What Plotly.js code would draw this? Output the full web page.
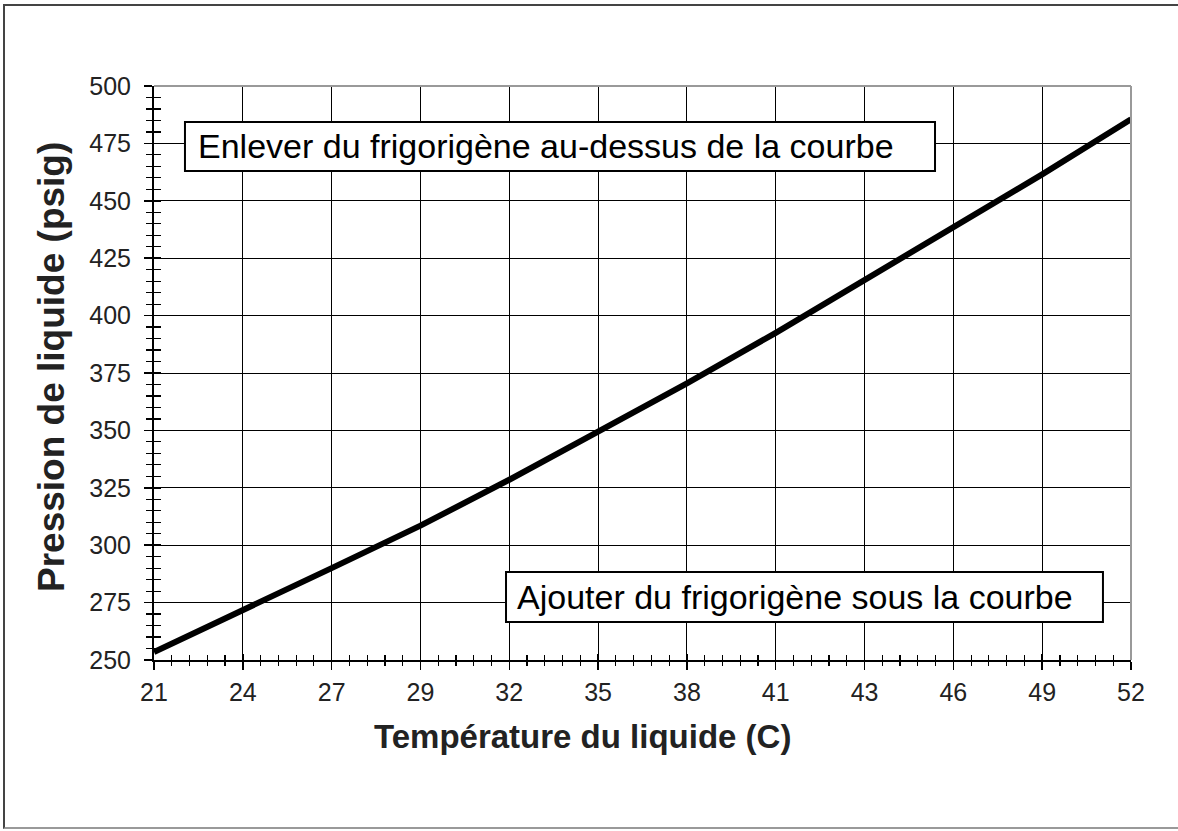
<!DOCTYPE html>
<html>
<head>
<meta charset="utf-8">
<script src="https://cdn.plot.ly/plotly-3.0.1.min.js"></script>
<style>
  html, body { margin: 0; padding: 0; background: #fff; }
  #frame { position: absolute; left: 3px; top: 4px; width: 1180px; height: 825px;
           border-left: 2px solid #444; border-top: 2px solid #444; border-bottom: 2px solid #999;
           box-sizing: border-box; pointer-events: none; z-index: 5; }
  #chart { position: absolute; left: 0; top: 0; width: 1178px; height: 831px; }
</style>
</head>
<body>
<div id="chart"></div>
<div id="frame"></div>
<script>
// Liquid temperature (underlying scale in °F, labelled in °C)
const tempF = [70, 75, 80, 85, 90, 95, 100, 105, 110, 115, 120, 125];
const tempLabelsC = ['21', '24', '27', '29', '32', '35', '38', '41', '43', '46', '49', '52'];
// Liquid pressure (psig)
const pressure = [253.5, 271.5, 290, 308.5, 328.5, 349.5, 370.5, 392.5, 415.5, 438, 461.5, 485.5];
const yTicks = [250, 275, 300, 325, 350, 375, 400, 425, 450, 475, 500];

const labelAbove = 'Enlever du frigorigène au-dessus de la courbe';
const labelBelow = 'Ajouter du frigorigène sous la courbe';
const xTitle = 'Température du liquide (C)';
const yTitle = 'Pression de liquide (psig)';

const FONT = 'Arial, "Liberation Sans", sans-serif';

const traces = [
  {
    x: tempF, y: pressure, type: 'scatter', mode: 'lines',
    line: { color: '#000', width: 6 },
    hoverinfo: 'skip', showlegend: false
  },
  {
    x: [], y: [], xaxis: 'x2', yaxis: 'y2', type: 'scatter', mode: 'lines',
    showlegend: false, hoverinfo: 'skip'
  }
];

const layout = {
  width: 1178, height: 831,
  margin: { l: 154, r: 47, t: 86, b: 171 },
  paper_bgcolor: '#fff', plot_bgcolor: '#fff',
  showlegend: false,
  font: { family: FONT, color: '#222' },
  xaxis: {
    range: [70, 125], tickmode: 'array', tickvals: tempF, ticktext: tempLabelsC,
    showgrid: true, gridcolor: '#000', gridwidth: 1, zeroline: false,
    showline: true, linecolor: '#000', linewidth: 2,
    ticks: 'outside', ticklen: 8, tickwidth: 1.5, tickcolor: '#000',
    ticklabelstandoff: 1,
    minor: { dtick: 1, tick0: 70, ticks: 'outside', ticklen: 4, tickwidth: 1.2, tickcolor: '#000', showgrid: false },
    tickfont: { family: FONT, size: 25, color: '#222' },
    fixedrange: true
  },
  yaxis: {
    range: [250, 500], tickmode: 'array', tickvals: yTicks,
    showgrid: true, gridcolor: '#000', gridwidth: 1, zeroline: false,
    showline: true, linecolor: '#000', linewidth: 2,
    ticks: 'outside', ticklen: 8, tickwidth: 1.5, tickcolor: '#000',
    ticklabelstandoff: 8,
    minor: { dtick: 5, tick0: 250, ticks: 'outside', ticklen: 6, tickwidth: 1.2, tickcolor: '#000', showgrid: false },
    tickfont: { family: FONT, size: 25, color: '#222' },
    fixedrange: true
  },
  xaxis2: {
    overlaying: 'x', matches: 'x', anchor: 'y2', side: 'bottom',
    range: [70, 125], tickmode: 'array', tickvals: tempF,
    showticklabels: false, showgrid: false, zeroline: false, showline: false,
    ticks: 'inside', ticklen: 6, tickwidth: 1.5, tickcolor: '#000',
    minor: { dtick: 1, tick0: 70, ticks: 'inside', ticklen: 5, tickwidth: 1.2, tickcolor: '#000', showgrid: false },
    fixedrange: true
  },
  yaxis2: {
    overlaying: 'y', matches: 'y', anchor: 'x2', side: 'left',
    range: [250, 500], tickmode: 'array', tickvals: yTicks,
    showticklabels: false, showgrid: false, zeroline: false, showline: false,
    ticks: 'inside', ticklen: 7, tickwidth: 1.5, tickcolor: '#000',
    minor: { dtick: 5, tick0: 250, ticks: 'inside', ticklen: 7, tickwidth: 1.2, tickcolor: '#000', showgrid: false },
    fixedrange: true
  },
  shapes: [
    { type: 'line', xref: 'paper', yref: 'paper', x0: 0, x1: 1, y0: 1, y1: 1, line: { color: '#999', width: 2 } },
    { type: 'line', xref: 'paper', yref: 'paper', x0: 1, x1: 1, y0: 0, y1: 1, line: { color: '#999', width: 2 } },
    { type: 'rect', xref: 'paper', yref: 'paper', x0: 0.0317, x1: 0.7994, y0: 0.8519, y1: 0.9373,
      fillcolor: '#fff', line: { color: '#000', width: 2 }, layer: 'above' },
    { type: 'rect', xref: 'paper', yref: 'paper', x0: 0.3603, x1: 0.9713, y0: 0.0662, y1: 0.1533,
      fillcolor: '#fff', line: { color: '#000', width: 2 }, layer: 'above' }
  ],
  annotations: [
    { text: labelAbove, xref: 'paper', yref: 'paper', x: 0.0425, y: 0.8955, xanchor: 'left', yanchor: 'middle',
      showarrow: false, font: { family: FONT, size: 34, color: '#000' } },
    { text: labelBelow, xref: 'paper', yref: 'paper', x: 0.370, y: 0.1098, xanchor: 'left', yanchor: 'middle',
      showarrow: false, font: { family: FONT, size: 34, color: '#000' } },
    { text: '<b>' + xTitle + '</b>', xref: 'paper', yref: 'paper', x: 0.439, y: -0.134, xanchor: 'center', yanchor: 'middle',
      showarrow: false, font: { family: FONT, size: 33, color: '#222' } },
    { text: '<b>' + yTitle + '</b>', xref: 'paper', yref: 'paper', x: -0.1044, y: 0.5105, xanchor: 'center', yanchor: 'middle',
      textangle: -90, showarrow: false, font: { family: FONT, size: 37, color: '#222' } }
  ]
};

Plotly.newPlot('chart', traces, layout, { displayModeBar: false, staticPlot: true });
</script>
</body>
</html>
